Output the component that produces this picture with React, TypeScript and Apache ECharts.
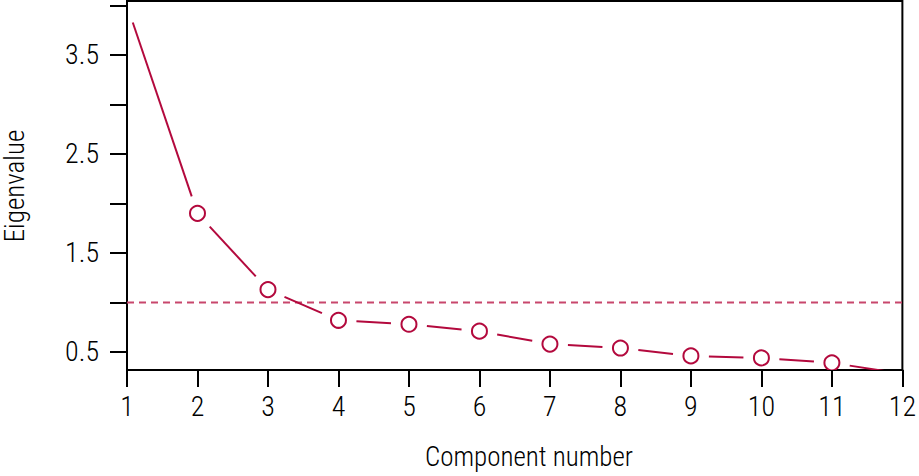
import React, { useEffect, useRef } from "react";
import * as echarts from "echarts";

// Data
const components: number[] = [1, 2, 3, 4, 5, 6, 7, 8, 9, 10, 11, 12];
const eigenvalues: number[] = [4.0, 1.9, 1.13, 0.82, 0.78, 0.71, 0.58, 0.54, 0.46, 0.44, 0.39, 0.28];
const kaiserThreshold: number = 1.0;
const xTicks: number[] = [1, 2, 3, 4, 5, 6, 7, 8, 9, 10, 11, 12];
const yTickValues: number[] = [0.5, 1.0, 1.5, 2.0, 2.5, 3.0, 3.5, 4.0];
const yLabelValues: number[] = [0.5, 1.5, 2.5, 3.5];
const xTitle = "Component number";
const yTitle = "Eigenvalue";

const LINE_COLOR = "#B3093D";
const DASH_COLOR = "#C8466C";
const FONT = "'Liberation Sans Narrow', 'Roboto Condensed', 'DejaVu Sans Condensed', 'Liberation Sans', sans-serif";
const GAP = 18;
const R = 7.5;

export default function App() {
  const ref = useRef<HTMLDivElement>(null);
  useEffect(() => {
    if (!ref.current) return;
    const chart = echarts.init(ref.current, undefined, { renderer: "svg" });
    const pts = components.map((c, i) => [c, eigenvalues[i]]);
    const option: any = {
      animation: false,
      backgroundColor: "#ffffff",
      grid: {
        left: 127,
        right: 14,
        top: 1,
        bottom: 106,
        show: true,
        borderColor: "#000",
        borderWidth: 2,
        backgroundColor: "transparent",
      },
      xAxis: {
        type: "value",
        min: 1,
        max: 12,
        interval: 1,
        splitLine: { show: false },
        axisLine: { show: true, lineStyle: { color: "#000", width: 2 } },
        axisTick: {
          show: true,
          inside: false,
          length: 17,
          lineStyle: { color: "#000", width: 2 },
          customValues: xTicks,
        },
        axisLabel: {
          color: "#000",
          fontSize: 28,
          fontWeight: 300,
          fontFamily: FONT,
          margin: 22,
          customValues: xTicks,
          formatter: (v: number) => String(v),
        },
      },
      yAxis: {
        type: "value",
        min: 0.318,
        max: 4.045,
        splitLine: { show: false },
        axisLine: { show: true, lineStyle: { color: "#000", width: 2 } },
        axisTick: {
          show: true,
          inside: false,
          length: 17,
          lineStyle: { color: "#000", width: 2 },
          customValues: yTickValues,
        },
        axisLabel: {
          color: "#000",
          fontSize: 28,
          fontWeight: 300,
          fontFamily: FONT,
          margin: 28,
          customValues: yLabelValues,
          formatter: (v: number) => v.toFixed(1),
        },
      },
      series: [
        {
          type: "line",
          data: [
            [xTicks[0], kaiserThreshold],
            [xTicks[xTicks.length - 1], kaiserThreshold],
          ],
          symbol: "none",
          silent: true,
          lineStyle: { color: DASH_COLOR, width: 1.8, type: [7, 5] },
          z: 1,
        },
        {
          type: "custom",
          data: pts,
          clip: true,
          silent: true,
          z: 2,
          renderItem: (params: any, api: any) => {
            const i = params.dataIndex;
            const cs = params.coordSys;
            const p = api.coord([api.value(0), api.value(1)]);
            const children: any[] = [];
            if (i < pts.length - 1) {
              const q = api.coord(pts[i + 1]);
              const dx = q[0] - p[0];
              const dy = q[1] - p[1];
              const len = Math.hypot(dx, dy);
              if (len > 2 * GAP) {
                const ux = dx / len;
                const uy = dy / len;
                children.push({
                  type: "line",
                  shape: {
                    x1: p[0] + ux * GAP,
                    y1: p[1] + uy * GAP,
                    x2: q[0] - ux * GAP,
                    y2: q[1] - uy * GAP,
                  },
                  style: { stroke: LINE_COLOR, lineWidth: 2 },
                });
              }
            }
            if (p[1] - R >= cs.y && p[1] <= cs.y + cs.height) {
              children.push({
                type: "circle",
                shape: { cx: p[0], cy: p[1], r: R },
                style: { fill: "#ffffff", stroke: LINE_COLOR, lineWidth: 2 },
              });
            }
            return { type: "group", children };
          },
        },
      ],
      graphic: [
        {
          type: "text",
          x: 529,
          y: 457,
          style: {
            text: xTitle,
            fill: "#000",
            font: `300 27px ${FONT}`,
            align: "center",
            verticalAlign: "middle",
          },
        },
        {
          type: "text",
          x: 15,
          y: 186,
          rotation: Math.PI / 2,
          style: {
            text: yTitle,
            fill: "#000",
            font: `300 27px ${FONT}`,
            align: "center",
            verticalAlign: "middle",
          },
        },
      ],
    };
    chart.setOption(option);
    return () => chart.dispose();
  }, []);
  return (
    <div
      ref={ref}
      style={{ position: "fixed", left: 0, top: 0, width: 919, height: 476, background: "#fff" }}
    />
  );
}
